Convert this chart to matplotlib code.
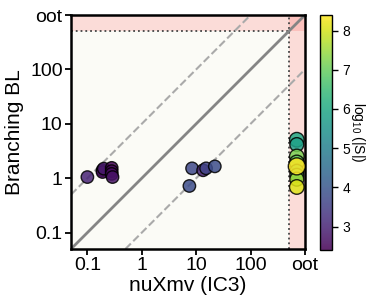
import matplotlib
matplotlib.use("Agg")
import matplotlib.pyplot as plt
import numpy as np

plt.rcParams['font.family'] = ['Liberation Sans', 'DejaVu Sans']
plt.rcParams['mathtext.fontset'] = 'custom'
plt.rcParams['mathtext.rm'] = 'Liberation Sans'

# data (oot = out of time, drawn inside the red band)
OOT = 707.0
x_vals = [0.1, 0.19, 0.19, 0.20, 0.28, 0.28, 0.28, 0.29,
          7.5, 8.4, 13.4, 15.2, 22.0,
          OOT, OOT, OOT, OOT, OOT, OOT, OOT, OOT, OOT]
y_vals = [1.05, 1.40, 1.30, 1.50, 1.55, 1.35, 1.20, 1.05,
          0.72, 1.52, 1.40, 1.52, 1.65,
          5.1, 4.15, 2.51, 1.95, 1.34, 1.13, 0.96, 0.69, 1.65]
c_vals = [3.0, 2.7, 2.6, 2.8, 2.45, 2.5, 2.6, 2.7,
          3.8, 3.7, 3.0, 3.6, 3.8,
          6.0, 5.8, 7.2, 7.0, 6.5, 6.8, 7.5, 8.1, 8.4]
s_vals = [80, 80, 80, 80, 80, 80, 80, 80,
          80, 80, 80, 80, 80,
          110, 100, 110, 110, 100, 100, 100, 110, 150]

ticks = [0.1, 1, 10, 100, 1000]
tick_labels = ['0.1', '1', '10', '100', 'oot']
lo, hi, thr = 0.05, 1000, 500

fig = plt.figure(figsize=(3.72, 3.05), dpi=100)
ax = fig.add_axes([71 / 372, 56 / 305, 234 / 372, 234 / 305])
ax.set_facecolor('#fbfbf6')
ax.set_xscale('log')
ax.set_yscale('log')
ax.set_xlim(lo, hi)
ax.set_ylim(lo, hi)

# out-of-time bands
ax.axvspan(thr, hi, color='red', alpha=0.12, lw=0, zorder=0)
ax.axhspan(thr, hi, color='red', alpha=0.12, lw=0, zorder=0)
ax.plot([lo, thr], [thr, thr], ':', color='#444444', lw=1.3, zorder=1)
ax.plot([thr, thr], [lo, hi], ':', color='#444444', lw=1.3, zorder=1)

# diagonals
ax.plot([lo, hi], [lo, hi], '-', color='#858585', lw=2, zorder=1)
ax.plot([lo, hi / 10], [lo * 10, hi], '--', color='#aaaaaa', lw=1.5, zorder=1)
ax.plot([lo * 10, hi], [lo, hi / 10], '--', color='#aaaaaa', lw=1.5, zorder=1)

sc = ax.scatter(x_vals, y_vals, c=c_vals, s=s_vals, cmap='viridis',
                vmin=2.4, vmax=8.4, edgecolors='black', linewidths=1,
                alpha=0.85, zorder=3)

ax.xaxis.set_major_locator(matplotlib.ticker.FixedLocator(ticks))
ax.yaxis.set_major_locator(matplotlib.ticker.FixedLocator(ticks))
ax.xaxis.set_minor_locator(matplotlib.ticker.NullLocator())
ax.yaxis.set_minor_locator(matplotlib.ticker.NullLocator())
ax.set_xticklabels(tick_labels)
ax.set_yticklabels(tick_labels)
ax.tick_params(labelsize=14, length=4, width=1.3, pad=2, color='black')
for sp in ax.spines.values():
    sp.set_linewidth(1.8)
    sp.set_color('black')

ax.set_xlabel('nuXmv (IC3)', fontsize=15, labelpad=1)
ax.set_ylabel('Branching BL', fontsize=15, labelpad=4)

cax = fig.add_axes([320 / 372, 55 / 305, 12 / 372, 235 / 305])
cb = fig.colorbar(sc, cax=cax)
cb.solids.set_alpha(0.85)
cb.set_ticks([3, 4, 5, 6, 7, 8])
cb.ax.tick_params(labelsize=10, length=4, width=1)
cb.outline.set_linewidth(1)
cb.set_label(r'log$_{10}$ (|S|)', rotation=270, fontsize=10, labelpad=12)

fig.savefig('out.png', dpi=100)
